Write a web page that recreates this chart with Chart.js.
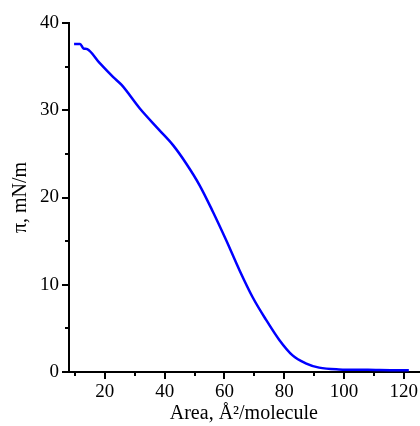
<!DOCTYPE html>
<html>
<head>
<meta charset="utf-8">
<script src="https://cdn.jsdelivr.net/npm/chart.js@4"></script>
<style>
  html, body { margin: 0; padding: 0; background: #fff; }
  #wrap { width: 420px; height: 426px; }
</style>
</head>
<body>
<div id="wrap"><canvas id="chart"></canvas></div>
<script>
// isotherm
const area = [9.7, 11.7, 12.8, 14.1, 18.3, 22.8, 25.6, 31.7, 38.3, 42.8, 47.2, 51.7, 56.1, 60.6, 65, 69.4, 73.9, 78.3, 82.8, 87.2, 91.7, 98.3, 108, 118.3, 121.7];
const pressure = [37.6, 37.6, 37.1, 37.0, 35.4, 33.8, 32.9, 30.2, 27.7, 26.0, 23.9, 21.4, 18.4, 15.1, 11.7, 8.6, 6.0, 3.7, 1.9, 1.0, 0.5, 0.3, 0.25, 0.2, 0.2];

const xLabels = [20, 40, 60, 80, 100, 120];
const yLabels = [0, 10, 20, 30, 40];
const xMinor = [10, 30, 50, 70, 90, 110];
const yMinor = [5, 15, 25, 35];

const serif = "'Liberation Serif', 'Times New Roman', serif";

// short minor ticks, placed through the scales
const minorTicks = {
  id: 'minorTicks',
  afterDraw(chart) {
    const c = chart.ctx;
    const xs = chart.scales.x, ys = chart.scales.y;
    c.save();
    c.strokeStyle = '#000';
    c.lineWidth = 2;
    c.beginPath();
    xMinor.forEach(v => {
      const px = Math.round(xs.getPixelForValue(v));
      c.moveTo(px, xs.top);
      c.lineTo(px, xs.top + 4);
    });
    yMinor.forEach(v => {
      const py = Math.round(ys.getPixelForValue(v));
      c.moveTo(ys.right, py);
      c.lineTo(ys.right - 4, py);
    });
    c.stroke();
    c.restore();
  }
};

new Chart(document.getElementById('chart'), {
  type: 'scatter',
  data: {
    datasets: [{
      data: area.map((a, i) => ({ x: a, y: pressure[i] })),
      showLine: true,
      borderColor: '#0000ff',
      borderWidth: 2.5,
      pointRadius: 0,
      cubicInterpolationMode: 'monotone'
    }]
  },
  options: {
    responsive: true,
    maintainAspectRatio: false,
    animation: false,
    layout: { padding: { top: 23, right: 0, left: 0, bottom: 0 } },
    plugins: { legend: { display: false }, tooltip: { enabled: false } },
    scales: {
      x: {
        type: 'linear',
        min: 8,
        max: 125,
        afterBuildTicks: s => { s.ticks = xLabels.map(v => ({ value: v })); },
        afterFit: s => { s.height = 54; },
        ticks: { color: '#000', font: { family: serif, size: 19 }, padding: 2, maxRotation: 0 },
        grid: { drawOnChartArea: false, tickLength: 7, color: '#000', lineWidth: 2 },
        border: { color: '#000', width: 2 },
        title: {
          display: true,
          text: 'Area, Å²/molecule',
          color: '#000',
          font: { family: serif, size: 20 },
          padding: { top: 0, bottom: 0 }
        }
      },
      y: {
        type: 'linear',
        min: 0,
        max: 40,
        afterBuildTicks: s => { s.ticks = yLabels.map(v => ({ value: v })); },
        afterFit: s => { s.width = 69; },
        ticks: { color: '#000', font: { family: serif, size: 19 }, padding: 3 },
        grid: { drawOnChartArea: false, tickLength: 7, color: '#000', lineWidth: 2 },
        border: { color: '#000', width: 2 },
        title: {
          display: true,
          text: 'π, mN/m',
          color: '#000',
          font: { family: serif, size: 20 },
          padding: { top: 9, bottom: 0 }
        }
      }
    }
  },
  plugins: [minorTicks]
});
</script>
</body>
</html>
